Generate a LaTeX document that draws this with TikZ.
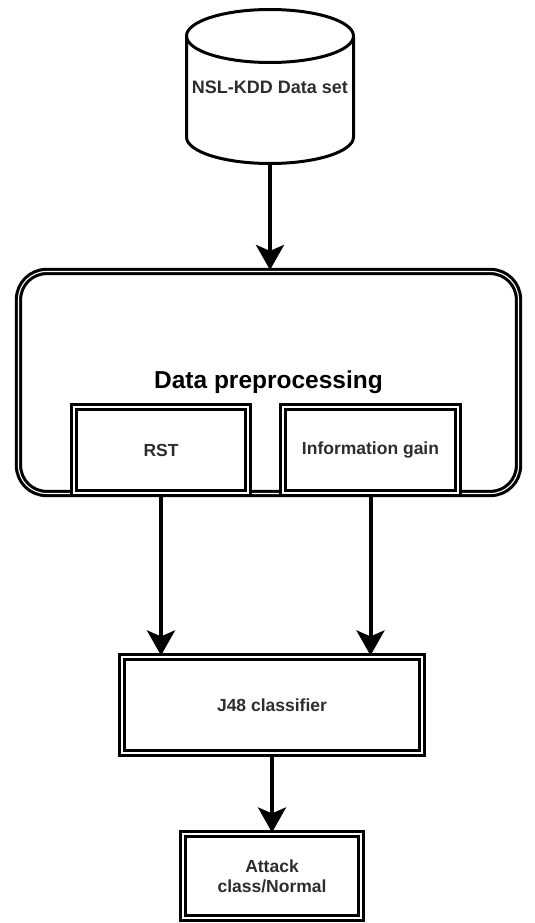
\documentclass[tikz,border=0pt]{standalone}
\usepackage{fontspec}
\setmainfont{Liberation Sans}
\usepackage{tikz}
\usetikzlibrary{arrows.meta}
\definecolor{labelGray}{RGB}{45,45,45}
\tikzstyle{flowchart} = [x = 1pt, y = -1pt]
\tikzstyle{doubleBorder} = [draw=black, double=white, line width=3.1pt, double distance=1.1pt]
\tikzstyle{stageStyle} = [doubleBorder, fill=white, inner sep=0pt, align=center, text=labelGray, font=\bfseries\fontsize{17.5}{20}\selectfont]
\tikzstyle{groupStyle} = [doubleBorder, rounded corners = 28pt, inner sep=0pt, font=\bfseries\fontsize{24.5}{28}\selectfont]
\tikzstyle{dataLine} = [draw=black, line width=3pt]
\tikzstyle{dataText} = [text=labelGray, font=\bfseries\fontsize{18}{20}\selectfont]
\tikzstyle{flowArrow} = [line width=4pt, -{Stealth[length=25pt, width=28pt, inset=6pt]}]
\newcommand{\rx}{83.5}
\newcommand{\ry}{26.5}
\newcommand{\stage}[5]{\node [stageStyle, minimum width=#3, minimum height=#4] (#1) at (#2) {#5};}

\begin{document}
\begin{tikzpicture}[flowchart]
  \useasboundingbox (0,0) rectangle (535,923);

  % input data as a drum
  \draw [dataLine] (270,36) ellipse [x radius=\rx, y radius=\ry];
  \draw [dataLine] (270-\rx,36) -- (270-\rx,137)
    arc [start angle=180, end angle=0, x radius=\rx, y radius=\ry] -- (270+\rx,36);
  \coordinate (nslkddBottom) at (270,137+\ry);
  \node [dataText] (nslkdd) at (270,87) {NSL-KDD Data set};

  % preprocessing block with its two methods
  \node [groupStyle, minimum width=500pt, minimum height=222pt] (prep) at (268.5,382.5) {Data preprocessing};
  \stage{rst}{161,450}{174pt}{86pt}{RST}
  \stage{infogain}{370.5,450}{175pt}{86pt}{Information gain}

  % classifier and result
  \stage{j48}{272,705}{300pt}{96pt}{J48 classifier}
  \stage{result}{272,876}{178pt}{84pt}{Attack\\class/Normal}

  \draw [flowArrow] (nslkddBottom) -- (nslkddBottom |- prep.north);
  \draw [flowArrow] (rst.south) -- (rst.south |- j48.north);
  \draw [flowArrow] (infogain.south) -- (infogain.south |- j48.north);
  \draw [flowArrow] (j48.south) -- (result.north);
\end{tikzpicture}
\end{document}
